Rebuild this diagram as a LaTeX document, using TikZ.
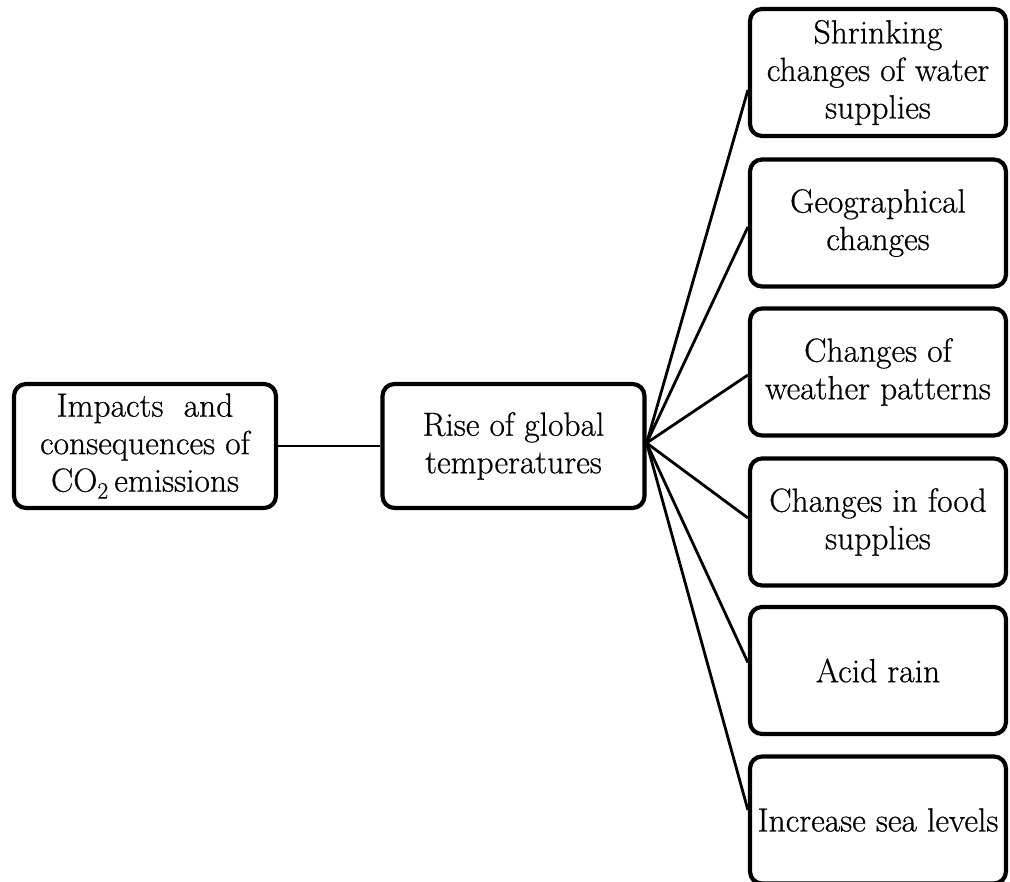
\documentclass[tikz,border=0pt]{standalone}
\usepackage{fontspec}
\newfontfamily\boxfont{Latin Modern Roman}[FakeBold=0.6]
\usepackage{tikz}
\begin{document}
\begin{tikzpicture}[x=1pt,y=-1pt,
  box/.style={draw=black, line width=4.2pt, rounded corners=12pt, fill=white,
    align=center, inner sep=0pt, font=\boxfont\fontsize{33.5}{37.5}\selectfont},
  lbox/.style={box, minimum width=262pt, minimum height=124pt},
  rbox/.style={box, minimum width=256pt, minimum height=127pt},
  link/.style={draw=black, line width=2.8pt}]
\useasboundingbox (0,0) rectangle (1010,882);
\fill[white] (0,0) rectangle (1010,882);

\node[lbox] (src) at (145,446) {Impacts~~and\\consequences of\\CO\textsubscript{2}\,emissions};
\node[lbox] (rise) at (513.5,446) {Rise of global\\temperatures};

\node[rbox] (r1) at (878,72.5) {Shrinking\\changes of water\\supplies};
\node[rbox] (r2) at (878,223) {Geographical\\changes};
\node[rbox] (r3) at (878,372) {Changes of\\weather patterns};
\node[rbox] (r4) at (878,522) {Changes in food\\supplies};
\node[rbox] (r5) at (878,670.5) {Acid rain};
\node[rbox] (r6) at (878,820) {Increase sea levels};

\draw[link] (src.east) -- (rise.west);
\draw[link] ([yshift=3pt]rise.east) -- ([yshift=-17.5pt]r1.west);
\draw[link] ([yshift=3pt]rise.east) -- ([yshift=-4pt]r2.west);
\draw[link] ([yshift=3pt]rise.east) -- ([yshift=-3pt]r3.west);
\draw[link] ([yshift=3pt]rise.east) -- ([yshift=4pt]r4.west);
\draw[link] ([yshift=3pt]rise.east) -- ([yshift=8pt]r5.west);
\draw[link] ([yshift=3pt]rise.east) -- ([yshift=10pt]r6.west);
\end{tikzpicture}
\end{document}
